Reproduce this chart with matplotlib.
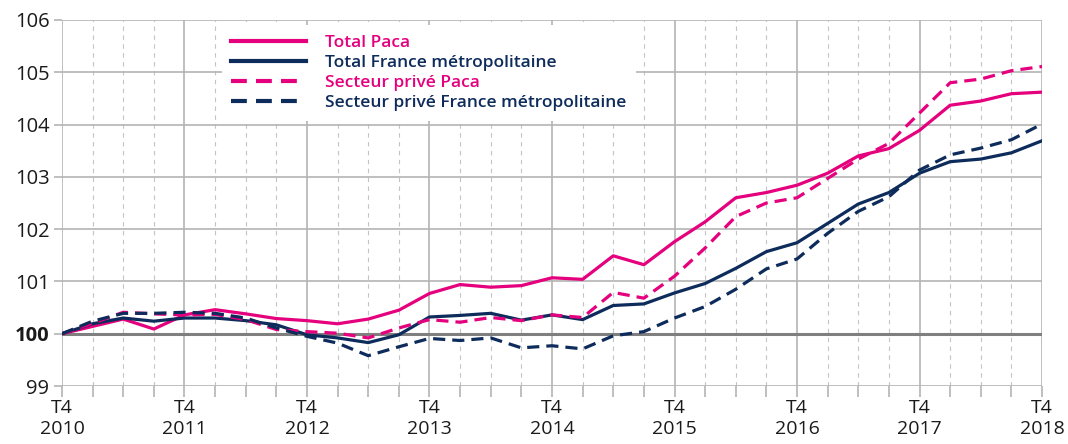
import numpy as np
import matplotlib
matplotlib.use('Agg')
import matplotlib.pyplot as plt

# Quarterly index, base 100 = T4 2010 (T4 2010 .. T4 2018)
years = [2010, 2011, 2012, 2013, 2014, 2015, 2016, 2017, 2018]
year_labels = ['T4\n%d' % y for y in years]

total_paca = [100.00, 100.14, 100.28, 100.09, 100.36, 100.46, 100.38, 100.29, 100.25,
              100.19, 100.28, 100.45, 100.77, 100.94, 100.89, 100.92, 101.07, 101.04,
              101.49, 101.32, 101.76, 102.14, 102.60, 102.70, 102.84, 103.07, 103.40,
              103.54, 103.89, 104.37, 104.45, 104.59, 104.62]
total_france = [100.00, 100.19, 100.30, 100.24, 100.30, 100.30, 100.25, 100.17, 99.98,
                99.92, 99.83, 99.98, 100.32, 100.35, 100.39, 100.26, 100.36, 100.27,
                100.54, 100.57, 100.78, 100.96, 101.25, 101.57, 101.74, 102.11, 102.48,
                102.70, 103.07, 103.29, 103.34, 103.46, 103.69]
prive_paca = [100.00, 100.20, 100.41, 100.38, 100.36, 100.37, 100.27, 100.08, 100.04,
              100.01, 99.92, 100.11, 100.27, 100.22, 100.31, 100.25, 100.36, 100.31,
              100.79, 100.68, 101.10, 101.64, 102.24, 102.50, 102.60, 102.97, 103.34,
              103.64, 104.22, 104.80, 104.87, 105.03, 105.11]
prive_france = [100.00, 100.24, 100.39, 100.39, 100.41, 100.39, 100.30, 100.11, 99.95,
                99.82, 99.58, 99.75, 99.91, 99.87, 99.92, 99.73, 99.77, 99.71,
                99.96, 100.04, 100.30, 100.52, 100.85, 101.24, 101.43, 101.92, 102.34,
                102.62, 103.13, 103.42, 103.55, 103.71, 104.01]

pink = '#E5007D'
navy = '#0E2C5B'
grid = '#B4B4B4'

plt.rcParams['font.family'] = ['Open Sans', 'DejaVu Sans']

fig = plt.figure(figsize=(10.68, 4.44), dpi=100)
ax = fig.add_axes([0.058, 0.1306, 0.9177, 0.8244])

q = np.arange(len(total_paca))

# grid: solid at each T4, dashed at other quarters
for i in q:
    if i % 4 == 0:
        ax.axvline(i, color=grid, lw=1.2, zorder=1)
    else:
        ax.axvline(i, color='#C4C4C4', lw=0.8, ls=(0, (4, 4)), zorder=1)
for v in range(99, 107):
    if v == 100:
        ax.axhline(v, color='#7F7F7F', lw=2.2, zorder=2)
    else:
        ax.axhline(v, color=grid, lw=1.2, zorder=1)

lw = 2.3
ax.plot(q, total_paca, color=pink, lw=lw, zorder=4, label='Total Paca')
ax.plot(q, total_france, color=navy, lw=lw, zorder=4, label='Total France métropolitaine')
ax.plot(q, prive_paca, color=pink, lw=lw, ls=(0, (3.8, 2.2)), zorder=4, label='Secteur privé Paca')
ax.plot(q, prive_france, color=navy, lw=lw, ls=(0, (3.8, 2.2)), zorder=4,
        label='Secteur privé France métropolitaine')

ax.set_xlim(0, len(q) - 1)
ax.set_ylim(99, 106)
for s in ax.spines.values():
    s.set_visible(False)

ax.set_xticks(np.arange(0, len(q), 4))
ax.set_xticklabels(year_labels, fontsize=14, color='#1a1a1a', linespacing=1.25)
ax.set_xticks(q, minor=True)
ax.tick_params(axis='x', which='both', length=8, color=grid, width=1.2, pad=1)
ax.set_yticks(range(99, 107))
ax.set_yticklabels([str(v) for v in range(99, 107)], fontsize=14.5, color='#1a1a1a')
ax.tick_params(axis='y', length=6, color=grid, width=1.2, pad=3)
for t in ax.get_yticklabels():
    if t.get_text() == '100':
        t.set_fontweight('bold')

leg = ax.legend(loc='upper left', bbox_to_anchor=(0.163, 0.985), frameon=True,
                facecolor='white', edgecolor='none', framealpha=1, fancybox=False,
                prop={'size': 12.5, 'weight': 'semibold'}, handlelength=4.3,
                handletextpad=1.1, labelspacing=0.22, borderpad=0.55, borderaxespad=0)
leg.set_zorder(3)
for txt, line in zip(leg.get_texts(), leg.get_lines()):
    txt.set_color(line.get_color())
    line.set_linewidth(3.0)

fig.savefig('out.png', dpi=100)
